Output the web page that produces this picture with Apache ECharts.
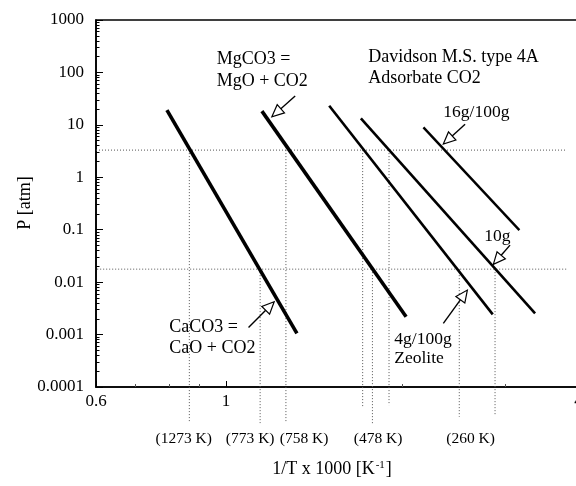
<!DOCTYPE html>
<html>
<head>
<meta charset="utf-8">
<script src="https://cdn.jsdelivr.net/npm/echarts@6/dist/echarts.min.js"></script>
<style>
html, body { margin: 0; padding: 0; background: #fff; }
#chart { width: 576px; height: 486px; }
</style>
</head>
<body>
<div id="chart"></div>
<script>
var FONT = '"Liberation Serif", "DejaVu Serif", serif';

// lines as [1000/T, P (atm)] end points
var caco3 = [[0.793, 19.1], [1.322, 0.00105]];
var mgco3 = [[1.152, 18.3], [2.031, 0.00218]];
var zeo4g = [[1.501, 23.1], [2.855, 0.00243]];
var zeo10g = [[1.70, 13.3], [3.372, 0.00254]];
var zeo16g = [[2.174, 8.95], [3.17, 0.098]];

// dotted guides
var hGuides = [[3.3, 0.6, 3.82], [0.0177, 0.575, 3.84]];          // [P, x from, x to]
var vGuides = [[0.866, 3.3, 2.05e-5], [1.144, 0.0177, 2.05e-5],
               [1.266, 3.3, 2.05e-5], [1.712, 3.3, 4.2e-5],
               [1.779, 0.0177, 1.88e-5], [1.899, 3.3, 4.5e-5],
               [2.503, 0.0177, 2.7e-5], [2.881, 0.0177, 2.9e-5]]; // [x, P from, P to]

// temperature labels under the axis
var tempLabels = ['(1273 K)', '(773 K)', '(758 K)', '(478 K)', '(260 K)'];
var tempX = [0.847, 1.100, 1.360, 1.819, 2.617];
var tempP = 1.04e-5;

// axis ticks
var xTicks = [0.6, 1, 4];
var xTickLabels = ['0.6', '1', '4'];
var xMinor = [0.7, 0.8, 0.9, 2, 3];
var yTicks = [0.0001, 0.001, 0.01, 0.1, 1, 10, 100, 1000];
var yTickLabels = ['0.0001', '0.001', '0.01', '0.1', '1', '10', '100', '1000'];
var yMinor = [];
for (var d = -4; d < 3; d++)
	for (var k = 2; k <= 9; k++) yMinor.push(k * Math.pow(10, d));

// arrows [tail, tip]
var arrows = [
	[[1.313, 35.4], [1.198, 14.3]],
	[[2.561, 10.3], [2.351, 4.30]],
	[[3.056, 0.0509], [2.862, 0.0218]],
	[[2.351, 0.00163], [2.584, 0.00706]],
	[[1.093, 0.00137], [1.209, 0.00422]]
];

var lg = function (v) { return Math.log10(v); };

var chart = echarts.init(document.getElementById('chart'), null, { renderer: 'canvas' });

function thick(data, w) {
	return { type: 'line', data: data, symbol: 'none', xAxisIndex: 0, yAxisIndex: 0,
		lineStyle: { color: '#000', width: w }, z: 5, silent: true, animation: false };
}
function dotted(data) {
	return { type: 'line', data: data, symbol: 'none', xAxisIndex: 0, yAxisIndex: 0, clip: false,
		lineStyle: { color: '#555', width: 1, type: [1, 2] }, z: 2, silent: true, animation: false };
}

var series = [thick(caco3, 3.6), thick(mgco3, 3.6), thick(zeo4g, 2.6), thick(zeo10g, 2.6), thick(zeo16g, 2.4)];
hGuides.forEach(function (g) { series.push(dotted([[g[1], g[0]], [g[2], g[0]]])); });
vGuides.forEach(function (g) { series.push(dotted([[g[0], g[1]], [g[0], g[2]]])); });

var labelStyle = { color: '#000', fontFamily: FONT, fontSize: 17 };
var hidden = { axisLine: { show: false }, axisTick: { show: false }, axisLabel: { show: false }, splitLine: { show: false } };

chart.setOption({
	animation: false,
	backgroundColor: '#fff',
	grid: { left: 96, right: -2.5, top: 20, bottom: 99, show: true, borderColor: '#000', borderWidth: 1.6,
		outerBoundsMode: 'none', containLabel: false },
	xAxis: [
		Object.assign({ type: 'log', logBase: 10, min: 0.6, max: 4 }, hidden),
		{
			type: 'value', min: lg(0.6), max: lg(4), position: 'bottom',
			axisLine: { show: true, onZero: false, lineStyle: { color: '#000', width: 1.6 } },
			axisTick: { show: true, inside: true, length: 6, customValues: xTicks.map(lg), lineStyle: { color: '#000' } },
			axisLabel: Object.assign({ customValues: xTicks.map(lg), margin: 6,
				formatter: function (v) {
					for (var i = 0; i < xTicks.length; i++) if (Math.abs(lg(xTicks[i]) - v) < 1e-6) return xTickLabels[i];
					return '';
				} }, labelStyle),
			splitLine: { show: false }
		},
		{
			type: 'value', min: lg(0.6), max: lg(4), position: 'bottom',
			axisLine: { show: false, onZero: false },
			axisTick: { show: true, inside: true, length: 3, customValues: xMinor.map(lg), lineStyle: { color: '#555' } },
			axisLabel: { show: false }, splitLine: { show: false }
		}
	],
	yAxis: [
		Object.assign({ type: 'log', logBase: 10, min: 0.0001, max: 1000 }, hidden),
		{
			type: 'value', min: -4, max: 3, interval: 1, position: 'left',
			axisLine: { show: true, onZero: false, lineStyle: { color: '#000', width: 1.6 } },
			axisTick: { show: true, inside: true, length: 7, lineStyle: { color: '#000' } },
			axisLabel: Object.assign({ margin: 12,
				formatter: function (v) { return yTickLabels[Math.round(v) + 4]; } }, labelStyle),
			splitLine: { show: false }
		},
		{
			type: 'value', min: -4, max: 3, position: 'left',
			axisLine: { show: false, onZero: false },
			axisTick: { show: true, inside: true, length: 3.5, customValues: yMinor.map(lg), lineStyle: { color: '#000' } },
			axisLabel: { show: false }, splitLine: { show: false }
		}
	],
	series: series
});

function pt(v) { return chart.convertToPixel({ seriesIndex: 0 }, v); }

var g = [];
function txt(t, x, y, size, align) {
	g.push({ type: 'text', x: x, y: y, z: 20, silent: true,
		style: { text: t, fill: '#000', font: size + 'px ' + FONT, textAlign: align || 'left', textVerticalAlign: 'middle' } });
}

// annotation texts
txt('MgCO3 =', 216.7, 59, 18);
txt('MgO + CO2', 216.7, 81, 18);
txt('Davidson M.S. type 4A', 368.3, 57, 18);
txt('Adsorbate CO2', 368.3, 78, 18);
txt('16g/100g', 443.3, 112, 17.5);
txt('10g', 484.3, 236, 17.5);
txt('4g/100g', 394.3, 339, 17.5);
txt('Zeolite', 394.3, 358, 17.5);
txt('CaCO3 =', 169.3, 327, 18);
txt('CaO + CO2', 169.3, 348, 18);

tempLabels.forEach(function (t, i) {
	var p = pt([tempX[i], tempP]);
	txt(t, p[0], p[1], 15.5, 'center');
});

// axis titles
g.push({ type: 'text', x: 25, y: 203, rotation: Math.PI / 2, z: 20, silent: true,
	style: { text: 'P [atm]', fill: '#000', font: '18px ' + FONT, textAlign: 'center', textVerticalAlign: 'middle' } });
g.push({ type: 'text', x: 332, y: 469, z: 20, silent: true,
	style: { text: '{a|1/T x 1000 [K}{s|-1}{a|]}', textAlign: 'center', textVerticalAlign: 'middle',
		rich: { a: { fontFamily: FONT, fontSize: 18, fill: '#000', color: '#000' },
			s: { fontFamily: FONT, fontSize: 11, fill: '#000', color: '#000', verticalAlign: 'top', padding: [0, 1, 6, 1] } } } });

// arrows with hollow heads
arrows.forEach(function (a) {
	var p0 = pt(a[0]), p1 = pt(a[1]);
	var dx = p1[0] - p0[0], dy = p1[1] - p0[1], len = Math.sqrt(dx * dx + dy * dy);
	var ux = dx / len, uy = dy / len, nx = -uy, ny = ux;
	var L = 12, W = 5.5;
	var bx = p1[0] - ux * L, by = p1[1] - uy * L;
	g.push({ type: 'line', z: 20, silent: true, shape: { x1: p0[0], y1: p0[1], x2: bx, y2: by },
		style: { stroke: '#000', lineWidth: 1.4 } });
	g.push({ type: 'polygon', z: 21, silent: true,
		shape: { points: [[p1[0], p1[1]], [bx + nx * W, by + ny * W], [bx - nx * W, by - ny * W]] },
		style: { fill: '#fff', stroke: '#000', lineWidth: 1.2 } });
});

chart.setOption({ graphic: { elements: g } });
</script>
</body>
</html>
